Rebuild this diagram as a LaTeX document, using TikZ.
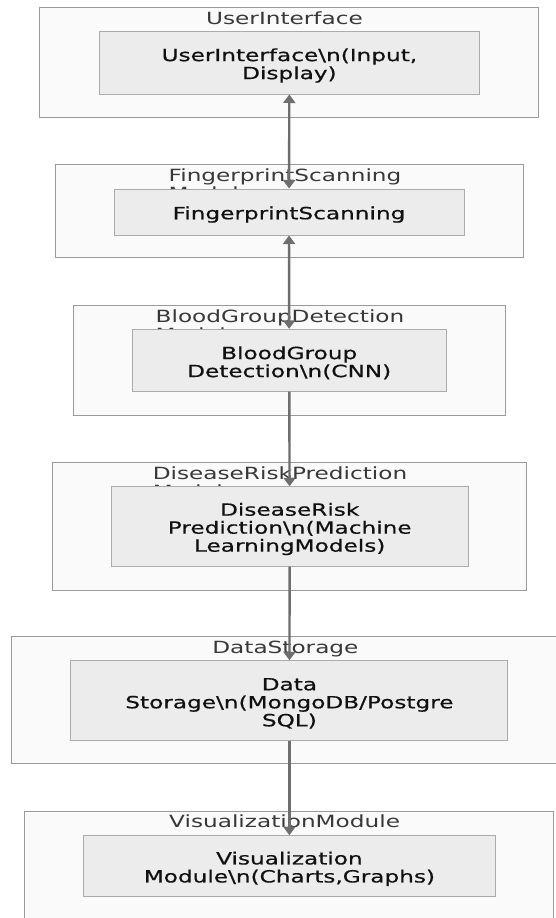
\documentclass[tikz,border=0pt]{standalone}
\usepackage{xcolor}
\usepackage{fontspec}
\setmainfont{DejaVu Sans}[FakeStretch=1.38]
\newfontfamily\boxfont{DejaVu Sans}[FakeStretch=1.38,FakeBold=0.6]
\usetikzlibrary{arrows.meta}
\newcommand{\lift}{\rule{0pt}{18pt}}
\definecolor{pagebg}{HTML}{FFFFFF}
\definecolor{groupbg}{HTML}{FAFAFA}
\definecolor{groupline}{HTML}{9A9A9A}
\definecolor{boxbg}{HTML}{ECECEC}
\definecolor{boxline}{HTML}{ABABAB}
\definecolor{text}{HTML}{111111}
\definecolor{muted}{HTML}{383838}
\definecolor{wire}{HTML}{6E6E6E}
\tikzset{
  group/.style={draw=groupline, fill=groupbg, line width=1pt, inner sep=0pt},
  box/.style={draw=boxline, fill=boxbg, line width=1pt, inner sep=0pt,
    text=text, align=center, font=\boxfont\fontsize{16.8}{18}\selectfont},
  ttl/.style={text=muted, anchor=north, inner sep=0pt, align=left,
    font=\fontsize{16.8}{18}\selectfont},
  link/.style={draw=wire, line width=2.4pt, -{Triangle[width=12pt,length=8.5pt]}},
  both/.style={link, {Triangle[width=12pt,length=8.5pt]}-{Triangle[width=12pt,length=8.5pt]}},
}
\begin{document}
\begin{tikzpicture}[x=1pt,y=-1pt]
  \useasboundingbox[fill=pagebg] (0,0) rectangle (556,918);
  % groups
  \node[group, minimum width=498.6pt, minimum height=110pt] (uiG) at (289,62.3) {};
  \node[group, minimum width=467.3pt, minimum height=93pt] (fpG) at (289.4,211.2) {};
  \node[group, minimum width=431.9pt, minimum height=110pt] (bgG) at (289.4,360.3) {};
  \node[group, minimum width=474.5pt, minimum height=127.3pt] (drG) at (289.4,526.4) {};
  \node[group, minimum width=555.3pt, minimum height=126.7pt] (dsG) at (289.4,700) {};
  \node[group, minimum width=528.5pt, minimum height=130pt] (vmG) at (288.8,876) {};
  % group titles
  \node[ttl] (uiT) at (284.5,11.5) {UserInterface};
  \node[ttl] (fpT) at (285,168.2) {FingerprintScanning\\Module};
  \node[ttl] (bgT) at (280,309.2) {BloodGroupDetection\\Module};
  \node[ttl] (drT) at (280,466.5) {DiseaseRiskPrediction\\Module};
  \node[ttl] (dsT) at (285.4,640.5) {DataStorage};
  \node[ttl] (vmT) at (284.6,815) {VisualizationModule};
  % boxes
  \node[box, minimum width=380.1pt, minimum height=62.3pt] (ui) at (289.4,62.85)
    {\lift UserInterface\textbackslash n(Input,\\Display)};
  \node[box, minimum width=350pt, minimum height=46pt] (fp) at (289,212)
    {\lift FingerprintScanning};
  \node[box, minimum width=313.8pt, minimum height=61.7pt] (bg) at (289.2,360.2)
    {\lift BloodGroup\\Detection\textbackslash n(CNN)};
  \node[box, minimum width=356.8pt, minimum height=79.3pt] (dr) at (289.7,526.4)
    {\lift DiseaseRisk\\Prediction\textbackslash n(Machine\\LearningModels)};
  \node[box, minimum width=436.9pt, minimum height=79.3pt] (ds) at (289.4,700.4)
    {\lift Data\\Storage\textbackslash n(MongoDB/Postgre\\SQL)};
  \node[box, minimum width=412.1pt, minimum height=61pt] (vm) at (289.4,866.2)
    {\lift Visualization\\Module\textbackslash n(Charts,Graphs)};
  % links
  \draw[both] (ui) -- (fp);
  \draw[both] (fp) -- (bg);
  \draw[link] (bg) -- (dr);
  \draw[link] (dr) -- (ds);
  \draw[link] (ds) -- (vm);
\end{tikzpicture}
\end{document}
